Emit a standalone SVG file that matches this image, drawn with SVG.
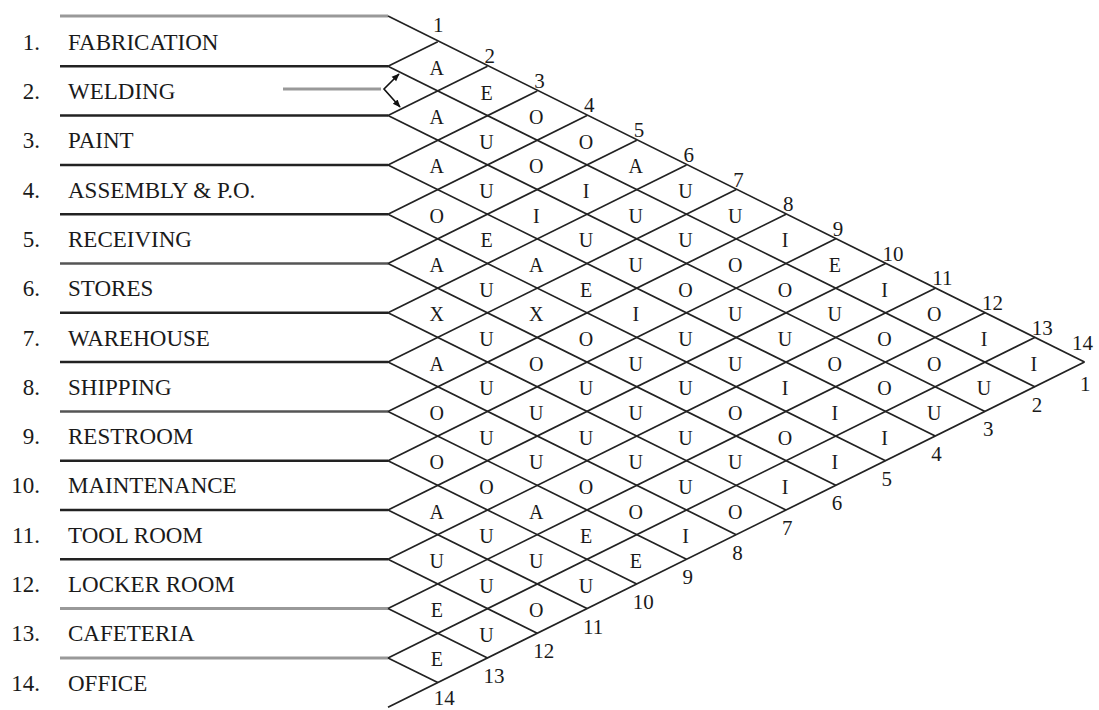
<svg xmlns="http://www.w3.org/2000/svg" width="1099" height="710" viewBox="0 0 1099 710">
<style>
  text { font-family: "Liberation Serif", "Times New Roman", serif; fill: #1a1a1a; }
  .num { font-size: 23px; text-anchor: end; }
  .name { font-size: 23px; }
  .rel { font-size: 20px; text-anchor: middle; }
  .idx { font-size: 21px; }
  .hl { stroke: #222; stroke-width: 2.5; fill: none; }
  .hg { stroke: #999; stroke-width: 3; fill: none; }
  .dg { stroke: #222; stroke-width: 1.7; fill: none; }
</style>
<defs>
  <marker id="ah" viewBox="0 0 10 10" refX="9" refY="5" markerWidth="8" markerHeight="8" markerUnits="userSpaceOnUse" orient="auto-start-reverse">
    <path d="M0,1 L10,5 L0,9 z" fill="#111"/>
  </marker>
</defs>
<rect width="1099" height="710" fill="#fff"/>

<g id="connectors">
  <!-- horizontal row separators -->
  <line class="hg" x1="60" y1="16" x2="388" y2="16"/>
  <line class="hl" x1="60" y1="66.3" x2="388" y2="66.3"/>
  <line class="hl" x1="60" y1="115.6" x2="388" y2="115.6"/>
  <line class="hl" x1="60" y1="164.9" x2="388" y2="164.9"/>
  <line class="hl" x1="60" y1="214.2" x2="388" y2="214.2"/>
  <line class="hl" x1="60" y1="263.5" x2="388" y2="263.5" style="stroke:#555"/>
  <line class="hl" x1="60" y1="312.8" x2="388" y2="312.8"/>
  <line class="hl" x1="60" y1="362.1" x2="388" y2="362.1"/>
  <line class="hl" x1="60" y1="411.4" x2="388" y2="411.4" style="stroke:#555"/>
  <line class="hl" x1="60" y1="460.7" x2="388" y2="460.7"/>
  <line class="hl" x1="60" y1="510" x2="388" y2="510"/>
  <line class="hl" x1="60" y1="559.3" x2="388" y2="559.3"/>
  <line class="hg" x1="60" y1="608.6" x2="388" y2="608.6"/>
  <line class="hg" x1="60" y1="657.9" x2="388" y2="657.9"/>
  <!-- down-right diagonals -->
  <line class="dg" x1="388" y1="16" x2="1084.5" y2="362.1"/>
  <line class="dg" x1="388" y1="66.3" x2="1034.75" y2="386.75"/>
  <line class="dg" x1="388" y1="115.6" x2="985" y2="411.4"/>
  <line class="dg" x1="388" y1="164.9" x2="935.25" y2="436.05"/>
  <line class="dg" x1="388" y1="214.2" x2="885.5" y2="460.7"/>
  <line class="dg" x1="388" y1="263.5" x2="835.75" y2="485.35"/>
  <line class="dg" x1="388" y1="312.8" x2="786" y2="510"/>
  <line class="dg" x1="388" y1="362.1" x2="736.25" y2="534.65"/>
  <line class="dg" x1="388" y1="411.4" x2="686.5" y2="559.3"/>
  <line class="dg" x1="388" y1="460.7" x2="636.75" y2="583.95"/>
  <line class="dg" x1="388" y1="510" x2="587" y2="608.6"/>
  <line class="dg" x1="388" y1="559.3" x2="537.25" y2="633.25"/>
  <line class="dg" x1="388" y1="608.6" x2="487.5" y2="657.9"/>
  <line class="dg" x1="388" y1="657.9" x2="437.75" y2="682.55"/>
  <!-- up-right diagonals -->
  <line class="dg" x1="388" y1="66.3" x2="437.75" y2="41.65"/>
  <line class="dg" x1="388" y1="115.6" x2="487.5" y2="66.3"/>
  <line class="dg" x1="388" y1="164.9" x2="537.25" y2="90.95"/>
  <line class="dg" x1="388" y1="214.2" x2="587" y2="115.6"/>
  <line class="dg" x1="388" y1="263.5" x2="636.75" y2="140.25"/>
  <line class="dg" x1="388" y1="312.8" x2="686.5" y2="164.9"/>
  <line class="dg" x1="388" y1="362.1" x2="736.25" y2="189.55"/>
  <line class="dg" x1="388" y1="411.4" x2="786" y2="214.2"/>
  <line class="dg" x1="388" y1="460.7" x2="835.75" y2="238.85"/>
  <line class="dg" x1="388" y1="510" x2="885.5" y2="263.5"/>
  <line class="dg" x1="388" y1="559.3" x2="935.25" y2="288.15"/>
  <line class="dg" x1="388" y1="608.6" x2="985" y2="312.8"/>
  <line class="dg" x1="388" y1="657.9" x2="1034.75" y2="337.45"/>
  <line class="dg" x1="388" y1="707.2" x2="1084.5" y2="362.1"/>
  <!-- pointer on WELDING -->
  <line x1="283" y1="89" x2="381" y2="89" stroke="#999" stroke-width="3"/>
  <path d="M399,74 L384,89 L400,107" fill="none" stroke="#111" stroke-width="1.6" marker-start="url(#ah)" marker-end="url(#ah)"/>
</g>

<g id="dept-1"><text class="num" x="40" y="49.7">1.</text><text class="name" x="68" y="49.7">FABRICATION</text></g>
<g id="dept-2"><text class="num" x="40" y="99">2.</text><text class="name" x="68" y="99">WELDING</text></g>
<g id="dept-3"><text class="num" x="40" y="148.3">3.</text><text class="name" x="68" y="148.3">PAINT</text></g>
<g id="dept-4"><text class="num" x="40" y="197.6">4.</text><text class="name" x="68" y="197.6">ASSEMBLY &amp; P.O.</text></g>
<g id="dept-5"><text class="num" x="40" y="246.9">5.</text><text class="name" x="68" y="246.9">RECEIVING</text></g>
<g id="dept-6"><text class="num" x="40" y="296.2">6.</text><text class="name" x="68" y="296.2">STORES</text></g>
<g id="dept-7"><text class="num" x="40" y="345.5">7.</text><text class="name" x="68" y="345.5">WAREHOUSE</text></g>
<g id="dept-8"><text class="num" x="40" y="394.8">8.</text><text class="name" x="68" y="394.8">SHIPPING</text></g>
<g id="dept-9"><text class="num" x="40" y="444.1">9.</text><text class="name" x="68" y="444.1">RESTROOM</text></g>
<g id="dept-10"><text class="num" x="40" y="493.4">10.</text><text class="name" x="68" y="493.4">MAINTENANCE</text></g>
<g id="dept-11"><text class="num" x="40" y="542.7">11.</text><text class="name" x="68" y="542.7">TOOL ROOM</text></g>
<g id="dept-12"><text class="num" x="40" y="592">12.</text><text class="name" x="68" y="592">LOCKER ROOM</text></g>
<g id="dept-13"><text class="num" x="40" y="641.3">13.</text><text class="name" x="68" y="641.3">CAFETERIA</text></g>
<g id="dept-14"><text class="num" x="40" y="690.6">14.</text><text class="name" x="68" y="690.6">OFFICE</text></g>

<g id="top-index" class="idx">
  <text x="433" y="32">1</text>
  <text x="484.5" y="62.5">2</text>
  <text x="534.3" y="87.5">3</text>
  <text x="584" y="112">4</text>
  <text x="633.8" y="137">5</text>
  <text x="683.5" y="161.5">6</text>
  <text x="733.3" y="186.5">7</text>
  <text x="783" y="211">8</text>
  <text x="832.8" y="235.5">9</text>
  <text x="882.5" y="260.5">10</text>
  <text x="932.3" y="285">11</text>
  <text x="982" y="309.5">12</text>
  <text x="1031.8" y="334.5">13</text>
  <text x="1072" y="350">14</text>
</g>
<g id="bottom-index" class="idx">
  <text x="433.8" y="704.5">14</text>
  <text x="483.5" y="682.5">13</text>
  <text x="533.3" y="658">12</text>
  <text x="583" y="633.5">11</text>
  <text x="632.8" y="609">10</text>
  <text x="682.5" y="584">9</text>
  <text x="732.3" y="559.5">8</text>
  <text x="782" y="535">7</text>
  <text x="831.8" y="510">6</text>
  <text x="881.5" y="485.5">5</text>
  <text x="931.3" y="461">4</text>
  <text x="983" y="436">3</text>
  <text x="1031.8" y="411.5">2</text>
  <text x="1080" y="391">1</text>
</g>

<g id="ratings" class="rel">
  <text id="r1-2" x="436.8" y="74.8">A</text>
  <text id="r1-3" x="486.5" y="99.5">E</text>
  <text id="r2-3" x="436.8" y="124.1">A</text>
  <text id="r1-4" x="536.3" y="124.1">O</text>
  <text id="r2-4" x="486.5" y="148.8">U</text>
  <text id="r1-5" x="586" y="148.8">O</text>
  <text id="r3-4" x="436.8" y="173.4">A</text>
  <text id="r2-5" x="536.3" y="173.4">O</text>
  <text id="r1-6" x="635.8" y="173.4">A</text>
  <text id="r3-5" x="486.5" y="198.1">U</text>
  <text id="r2-6" x="586" y="198.1">I</text>
  <text id="r1-7" x="685.5" y="198.1">U</text>
  <text id="r4-5" x="436.8" y="222.7">O</text>
  <text id="r3-6" x="536.3" y="222.7">I</text>
  <text id="r2-7" x="635.8" y="222.7">U</text>
  <text id="r1-8" x="735.3" y="222.7">U</text>
  <text id="r4-6" x="486.5" y="247.4">E</text>
  <text id="r3-7" x="586" y="247.4">U</text>
  <text id="r2-8" x="685.5" y="247.4">U</text>
  <text id="r1-9" x="785" y="247.4">I</text>
  <text id="r5-6" x="436.8" y="272">A</text>
  <text id="r4-7" x="536.3" y="272">A</text>
  <text id="r3-8" x="635.8" y="272">U</text>
  <text id="r2-9" x="735.3" y="272">O</text>
  <text id="r1-10" x="834.8" y="272">E</text>
  <text id="r5-7" x="486.5" y="296.7">U</text>
  <text id="r4-8" x="586" y="296.7">E</text>
  <text id="r3-9" x="685.5" y="296.7">O</text>
  <text id="r2-10" x="785" y="296.7">O</text>
  <text id="r1-11" x="884.5" y="296.7">I</text>
  <text id="r6-7" x="436.8" y="321.3">X</text>
  <text id="r5-8" x="536.3" y="321.3">X</text>
  <text id="r4-9" x="635.8" y="321.3">I</text>
  <text id="r3-10" x="735.3" y="321.3">U</text>
  <text id="r2-11" x="834.8" y="321.3">U</text>
  <text id="r1-12" x="934.3" y="321.3">O</text>
  <text id="r6-8" x="486.5" y="346">U</text>
  <text id="r5-9" x="586" y="346">O</text>
  <text id="r4-10" x="685.5" y="346">U</text>
  <text id="r3-11" x="785" y="346">U</text>
  <text id="r2-12" x="884.5" y="346">O</text>
  <text id="r1-13" x="984" y="346">I</text>
  <text id="r7-8" x="436.8" y="370.6">A</text>
  <text id="r6-9" x="536.3" y="370.6">O</text>
  <text id="r5-10" x="635.8" y="370.6">U</text>
  <text id="r4-11" x="735.3" y="370.6">U</text>
  <text id="r3-12" x="834.8" y="370.6">O</text>
  <text id="r2-13" x="934.3" y="370.6">O</text>
  <text id="r1-14" x="1033.8" y="370.6">I</text>
  <text id="r7-9" x="486.5" y="395.3">U</text>
  <text id="r6-10" x="586" y="395.3">U</text>
  <text id="r5-11" x="685.5" y="395.3">U</text>
  <text id="r4-12" x="785" y="395.3">I</text>
  <text id="r3-13" x="884.5" y="395.3">O</text>
  <text id="r2-14" x="984" y="395.3">U</text>
  <text id="r8-9" x="436.8" y="419.9">O</text>
  <text id="r7-10" x="536.3" y="419.9">U</text>
  <text id="r6-11" x="635.8" y="419.9">U</text>
  <text id="r5-12" x="735.3" y="419.9">O</text>
  <text id="r4-13" x="834.8" y="419.9">I</text>
  <text id="r3-14" x="934.3" y="419.9">U</text>
  <text id="r8-10" x="486.5" y="444.6">U</text>
  <text id="r7-11" x="586" y="444.6">U</text>
  <text id="r6-12" x="685.5" y="444.6">U</text>
  <text id="r5-13" x="785" y="444.6">O</text>
  <text id="r4-14" x="884.5" y="444.6">I</text>
  <text id="r9-10" x="436.8" y="469.2">O</text>
  <text id="r8-11" x="536.3" y="469.2">U</text>
  <text id="r7-12" x="635.8" y="469.2">U</text>
  <text id="r6-13" x="735.3" y="469.2">U</text>
  <text id="r5-14" x="834.8" y="469.2">I</text>
  <text id="r9-11" x="486.5" y="493.9">O</text>
  <text id="r8-12" x="586" y="493.9">O</text>
  <text id="r7-13" x="685.5" y="493.9">U</text>
  <text id="r6-14" x="785" y="493.9">I</text>
  <text id="r10-11" x="436.8" y="518.5">A</text>
  <text id="r9-12" x="536.3" y="518.5">A</text>
  <text id="r8-13" x="635.8" y="518.5">O</text>
  <text id="r7-14" x="735.3" y="518.5">O</text>
  <text id="r10-12" x="486.5" y="543.2">U</text>
  <text id="r9-13" x="586" y="543.2">E</text>
  <text id="r8-14" x="685.5" y="543.2">I</text>
  <text id="r11-12" x="436.8" y="567.8">U</text>
  <text id="r10-13" x="536.3" y="567.8">U</text>
  <text id="r9-14" x="635.8" y="567.8">E</text>
  <text id="r11-13" x="486.5" y="592.5">U</text>
  <text id="r10-14" x="586" y="592.5">U</text>
  <text id="r12-13" x="436.8" y="617.1">E</text>
  <text id="r11-14" x="536.3" y="617.1">O</text>
  <text id="r12-14" x="486.5" y="641.8">U</text>
  <text id="r13-14" x="436.8" y="666.4">E</text>
</g>
</svg>
